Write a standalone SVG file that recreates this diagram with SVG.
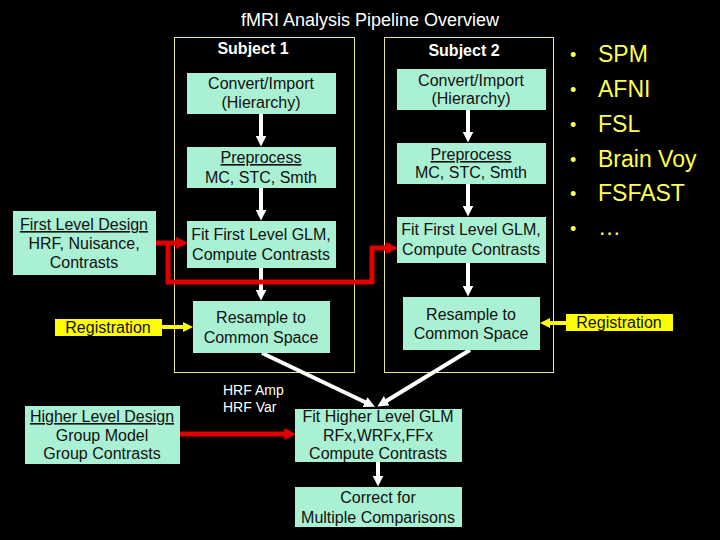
<svg xmlns="http://www.w3.org/2000/svg" width="720" height="540" viewBox="0 0 720 540">
<style>
text{font-family:"Liberation Sans",Arial,sans-serif}
.box{fill:#aaf0d2}
.bt{font-size:16px;fill:#111;text-anchor:middle}
.frame{fill:none;stroke:#e8e890;stroke-width:1}
.sub{font-size:16px;font-weight:bold;fill:#fff;text-anchor:middle}
.w{stroke:#fff;stroke-width:4;fill:none}
.r{stroke:#e00000;stroke-width:5;fill:none}
.y{stroke:#ffff00;stroke-width:4;fill:none}
.reg{fill:#ffff00}
.list{font-size:23px;fill:#ffff50}
.bul{font-size:18px}
.u{text-decoration:underline}
</style>
<defs>
<marker id="aw" viewBox="0 0 10 10" markerUnits="userSpaceOnUse" markerWidth="11" markerHeight="11" refX="4" refY="5" orient="auto"><path d="M0,0 L10,5 L0,10 z" fill="#fff"/></marker>
<marker id="ar" viewBox="0 0 10 10" markerUnits="userSpaceOnUse" markerWidth="12" markerHeight="12" refX="4" refY="5" orient="auto"><path d="M0,0 L10,5 L0,10 z" fill="#e00000"/></marker>
<marker id="ay" viewBox="0 0 10 10" markerUnits="userSpaceOnUse" markerWidth="10" markerHeight="10" refX="4" refY="5" orient="auto"><path d="M0,0 L10,5 L0,10 z" fill="#ffff00"/></marker>
</defs>
<rect width="720" height="540" fill="#000"/>
<text x="370" y="26" font-size="18" fill="#fff" text-anchor="middle">fMRI Analysis Pipeline Overview</text>

<g id="subject1">
<rect class="frame" x="174.5" y="37.5" width="180" height="335"/>
<text class="sub" x="253" y="54">Subject 1</text>
</g>
<g id="subject2">
<rect class="frame" x="384.5" y="37.5" width="169" height="335"/>
<text class="sub" x="464" y="56">Subject 2</text>
</g>

<g id="connectors">
<line class="w" x1="261" y1="114" x2="261" y2="140" marker-end="url(#aw)"/>
<line class="w" x1="261" y1="188" x2="261" y2="214" marker-end="url(#aw)"/>
<line class="w" x1="261" y1="268" x2="261" y2="294" marker-end="url(#aw)"/>
<line class="w" x1="468" y1="110" x2="468" y2="136" marker-end="url(#aw)"/>
<line class="w" x1="468" y1="184" x2="468" y2="210" marker-end="url(#aw)"/>
<line class="w" x1="468" y1="263" x2="468" y2="290" marker-end="url(#aw)"/>
<line class="w" x1="262" y1="353" x2="369" y2="404" marker-end="url(#aw)"/>
<line class="w" x1="470" y1="350" x2="383" y2="403" marker-end="url(#aw)"/>
<line class="w" x1="378" y1="462" x2="378" y2="480" marker-end="url(#aw)"/>
<line class="r" x1="156" y1="243" x2="181" y2="243" marker-end="url(#ar)"/>
<path class="r" d="M168,243 V282 H372 V248 H391" marker-end="url(#ar)"/>
<line class="r" x1="180" y1="434" x2="289" y2="434" marker-end="url(#ar)"/>
<line class="y" x1="162" y1="327" x2="187" y2="327" marker-end="url(#ay)"/>
<line class="y" x1="566" y1="323" x2="546" y2="323" marker-end="url(#ay)"/>
</g>

<g id="convert1"><rect class="box" x="187" y="73" width="149" height="41"/>
<text class="bt" x="261" y="89">Convert/Import</text><text class="bt" x="261" y="108">(Hierarchy)</text></g>
<g id="preprocess1"><rect class="box" x="187" y="147" width="149" height="41"/>
<text class="bt u" x="261" y="163">Preprocess</text><text class="bt" x="261" y="183">MC, STC, Smth</text></g>
<g id="fitfirst1"><rect class="box" x="187" y="221" width="149" height="47"/>
<text class="bt" x="261" y="240">Fit First Level GLM,</text><text class="bt" x="261" y="260">Compute Contrasts</text></g>
<g id="resample1"><rect class="box" x="193" y="301" width="137" height="52"/>
<text class="bt" x="261" y="323">Resample to</text><text class="bt" x="261" y="343">Common Space</text></g>

<g id="convert2"><rect class="box" x="397" y="69" width="149" height="41"/>
<text class="bt" x="471" y="86">Convert/Import</text><text class="bt" x="471" y="104">(Hierarchy)</text></g>
<g id="preprocess2"><rect class="box" x="397" y="143" width="149" height="41"/>
<text class="bt u" x="471" y="160">Preprocess</text><text class="bt" x="471" y="178">MC, STC, Smth</text></g>
<g id="fitfirst2"><rect class="box" x="397" y="217" width="149" height="46"/>
<text class="bt" x="471" y="235">Fit First Level GLM,</text><text class="bt" x="471" y="255">Compute Contrasts</text></g>
<g id="resample2"><rect class="box" x="403" y="297" width="137" height="53"/>
<text class="bt" x="471" y="320">Resample to</text><text class="bt" x="471" y="339">Common Space</text></g>

<g id="firstdesign"><rect class="box" x="13" y="211" width="143" height="64"/>
<text class="bt u" x="84" y="230">First Level Design</text><text class="bt" x="84" y="249">HRF, Nuisance,</text><text class="bt" x="84" y="268">Contrasts</text></g>
<g id="reg-left"><rect class="reg" x="55" y="319" width="107" height="17"/>
<text class="bt" x="108" y="333">Registration</text></g>
<g id="reg-right"><rect class="reg" x="566" y="314" width="107" height="17"/>
<text class="bt" x="619" y="328">Registration</text></g>
<g id="hrf"><text x="223" y="395" font-size="14" fill="#fff">HRF Amp</text><text x="223" y="412" font-size="14" fill="#fff">HRF Var</text></g>
<g id="higherdesign"><rect class="box" x="25" y="406" width="155" height="58"/>
<text class="bt u" x="102" y="422">Higher Level Design</text><text class="bt" x="102" y="441">Group Model</text><text class="bt" x="102" y="459">Group Contrasts</text></g>
<g id="fithigher"><rect class="box" x="295" y="409" width="167" height="53"/>
<text class="bt" x="378" y="422">Fit Higher Level GLM</text><text class="bt" x="378" y="441">RFx,WRFx,FFx</text><text class="bt" x="378" y="459">Compute Contrasts</text></g>
<g id="correct"><rect class="box" x="295" y="487" width="167" height="40"/>
<text class="bt" x="378" y="503">Correct for</text><text class="bt" x="378" y="523">Multiple Comparisons</text></g>

<g id="tools" class="list">
<text class="bul" x="570" y="61">•</text><text x="598" y="62">SPM</text>
<text class="bul" x="570" y="96">•</text><text x="598" y="97">AFNI</text>
<text class="bul" x="570" y="131">•</text><text x="598" y="132">FSL</text>
<text class="bul" x="570" y="166">•</text><text x="598" y="167">Brain Voy</text>
<text class="bul" x="570" y="200">•</text><text x="598" y="201">FSFAST</text>
<text class="bul" x="570" y="235">•</text><text x="598" y="235">…</text>
</g>
</svg>
